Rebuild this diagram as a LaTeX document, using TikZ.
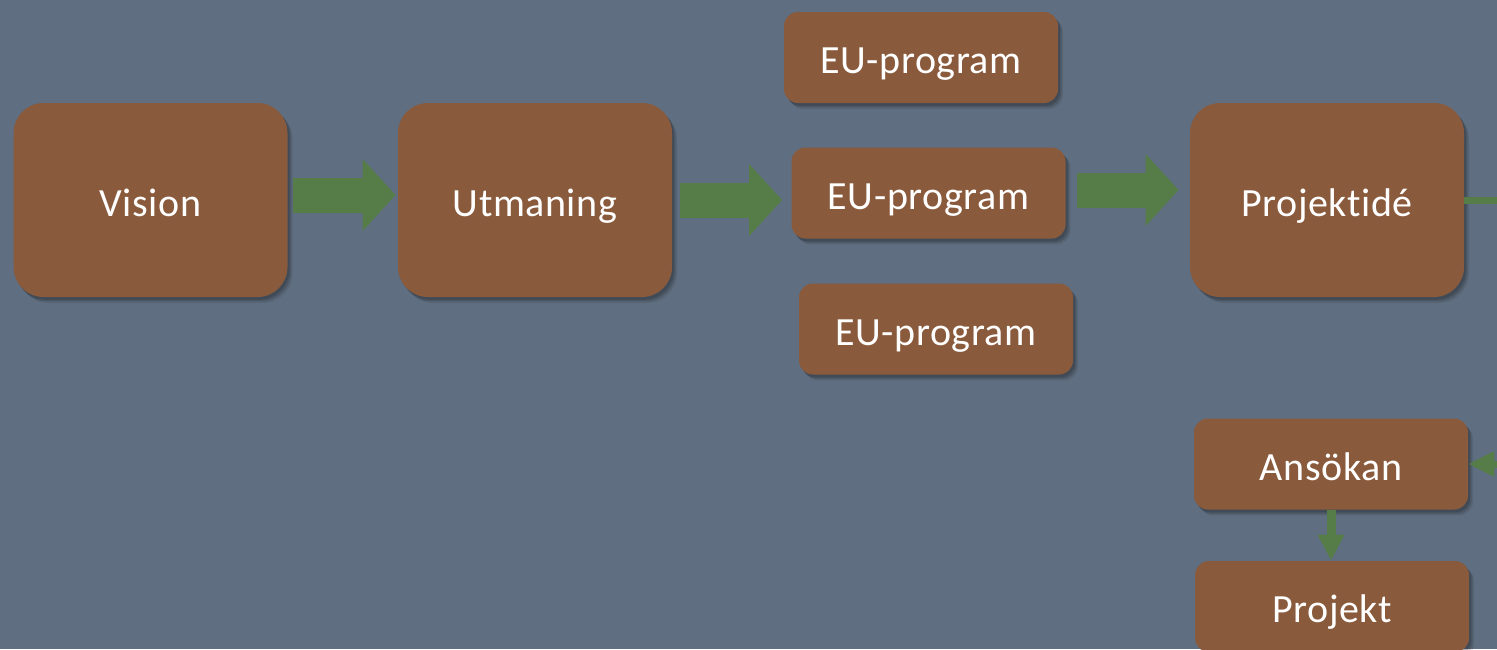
\documentclass[tikz,border=0pt]{standalone}
\usepackage{fontspec}
\setmainfont[Ligatures=NoCommon,LetterSpace=1.5]{Carlito}
\usetikzlibrary{arrows.meta,shadows}
\definecolor{bg}{RGB}{95,110,128}
\definecolor{boxfill}{RGB}{138,90,60}
\definecolor{arrowgreen}{RGB}{86,125,72}
\tikzset{
  box/.style={rectangle, fill=boxfill, text=white, inner sep=0pt,
    font=\fontsize{20pt}{24pt}\selectfont, text height=16pt, text depth=0pt,
    general shadow={shadow xshift=2.5pt, shadow yshift=-3pt, opacity=0.08, fill=black},
    general shadow={shadow xshift=1.8pt, shadow yshift=-2.2pt, opacity=0.12, fill=black},
    general shadow={shadow xshift=1pt, shadow yshift=-1.4pt, opacity=0.14, fill=black}},
  bigbox/.style={box, minimum width=137pt, minimum height=97pt, rounded corners=15pt},
  smallbox/.style={box, minimum width=137pt, minimum height=45.5pt, rounded corners=7pt},
  blockarrow/.style={color=arrowgreen, line width=17.5pt, line cap=butt,
    -{Triangle[width=35pt,length=16.5pt]}},
  thinarrow/.style={color=arrowgreen, line width=3.5pt,
    -{Triangle[width=12pt,length=13pt]}},
  downarrow/.style={color=arrowgreen, line width=4.5pt,
    -{Triangle[width=12.5pt,length=13pt]}}
}
\begin{document}
\begin{tikzpicture}[x=0.5pt,y=-0.5pt]
\useasboundingbox (0,0) rectangle (1497,649);
\fill[bg] (0,0) rectangle (1497,649);
\clip (0,0) rectangle (1497,649);

\node[bigbox] (vision) at (150.5,200) {Vision};
\node[bigbox] (utmaning) at (535,200) {Utmaning};
\node[smallbox] (eu1) at (921,57.5) {EU-program};
\node[smallbox] (eu2) at (928.5,193) {EU-program};
\node[smallbox] (eu3) at (936,329) {EU-program};
\node[bigbox] (idea) at (1327,200) {Projektidé};
\node[smallbox] (ansokan) at (1331,464) {Ansökan};
\node[smallbox] (projekt) at (1332,606.5) {Projekt};

\draw[blockarrow, shorten <=2.75pt, shorten >=1pt]
  ([yshift=2.5pt]vision.east) -- ([yshift=2.5pt]utmaning.west);
\draw[blockarrow, shorten <=4pt, shorten >=4.5pt]
  (utmaning.east) -- (utmaning.east -| eu2.west);
\draw[blockarrow, shorten <=5.5pt, shorten >=5.5pt]
  ([yshift=1.5pt]eu2.east) -- ([yshift=1.5pt]eu2.east -| idea.west);

\coordinate (offright) at (1520,200);
\draw[thinarrow] (idea.east) -- (offright) |- (ansokan.east);
\draw[downarrow] (ansokan.south) -- (ansokan.south |- projekt.north);
\end{tikzpicture}
\end{document}
